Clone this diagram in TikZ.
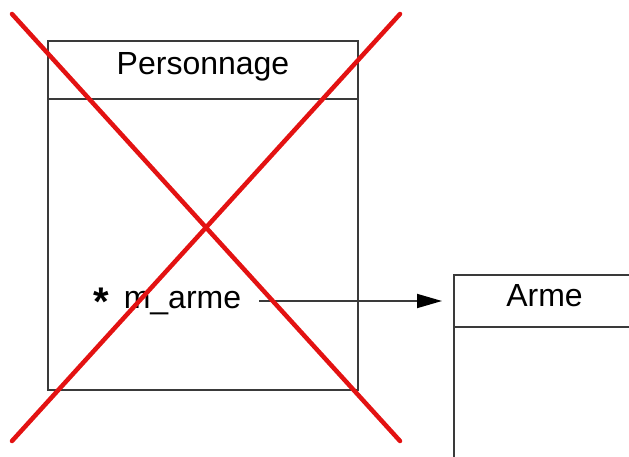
\documentclass[tikz,border=0pt]{standalone}
\usepackage{fontspec}
\setmainfont{Liberation Sans}
\usepackage{tikz}
\usetikzlibrary{positioning,arrows.meta}

\definecolor{umlline}{HTML}{3A3A3A}
\definecolor{crossred}{HTML}{E31212}

\tikzset{
  classhead/.style={draw=umlline,line width=2pt,outer sep=0pt,inner sep=0pt,
    text height=20pt,text depth=10pt,font=\fontsize{32}{38}\selectfont},
  classbody/.style={draw=umlline,line width=2pt,outer sep=0pt,inner sep=0pt},
  assoc/.style={draw=umlline,line width=1.8pt,-{Triangle[length=25pt,width=14pt,black]}},
  cross/.style={crossred,line width=4.5pt,line cap=round}
}

\begin{document}
\begin{tikzpicture}[x=1pt,y=-1pt]
\useasboundingbox (0,0) rectangle (629,457);
\clip (0,0) rectangle (629,457);
% class Personnage
\node[classhead,minimum width=310pt,minimum height=58pt] (personnage) at (203,70) {Personnage};
\node[classbody,minimum width=310pt,minimum height=291pt,below=0pt of personnage] (personnagebody) {};
\node[anchor=base west,inner sep=0pt,font=\fontsize{32}{38}\selectfont] (attr) at (93,308)
  {\raisebox{-7pt}{\fontsize{40}{40}\selectfont\bfseries *}\hspace{15pt}m\_arme};
% class Arme (cut off at the border)
\node[classhead,minimum width=181pt,minimum height=52pt] (arme) at (544.5,301) {Arme};
\node[classbody,minimum width=181pt,minimum height=200pt,below=0pt of arme] (armebody) {};
% association
\draw[assoc,shorten <=18pt,shorten >=12pt] (attr.east |- arme.west) -- (arme.west);
% red cross over Personnage
\draw[cross] (12,14) -- (400,441);
\draw[cross] (400,14) -- (12,441);
\end{tikzpicture}
\end{document}
